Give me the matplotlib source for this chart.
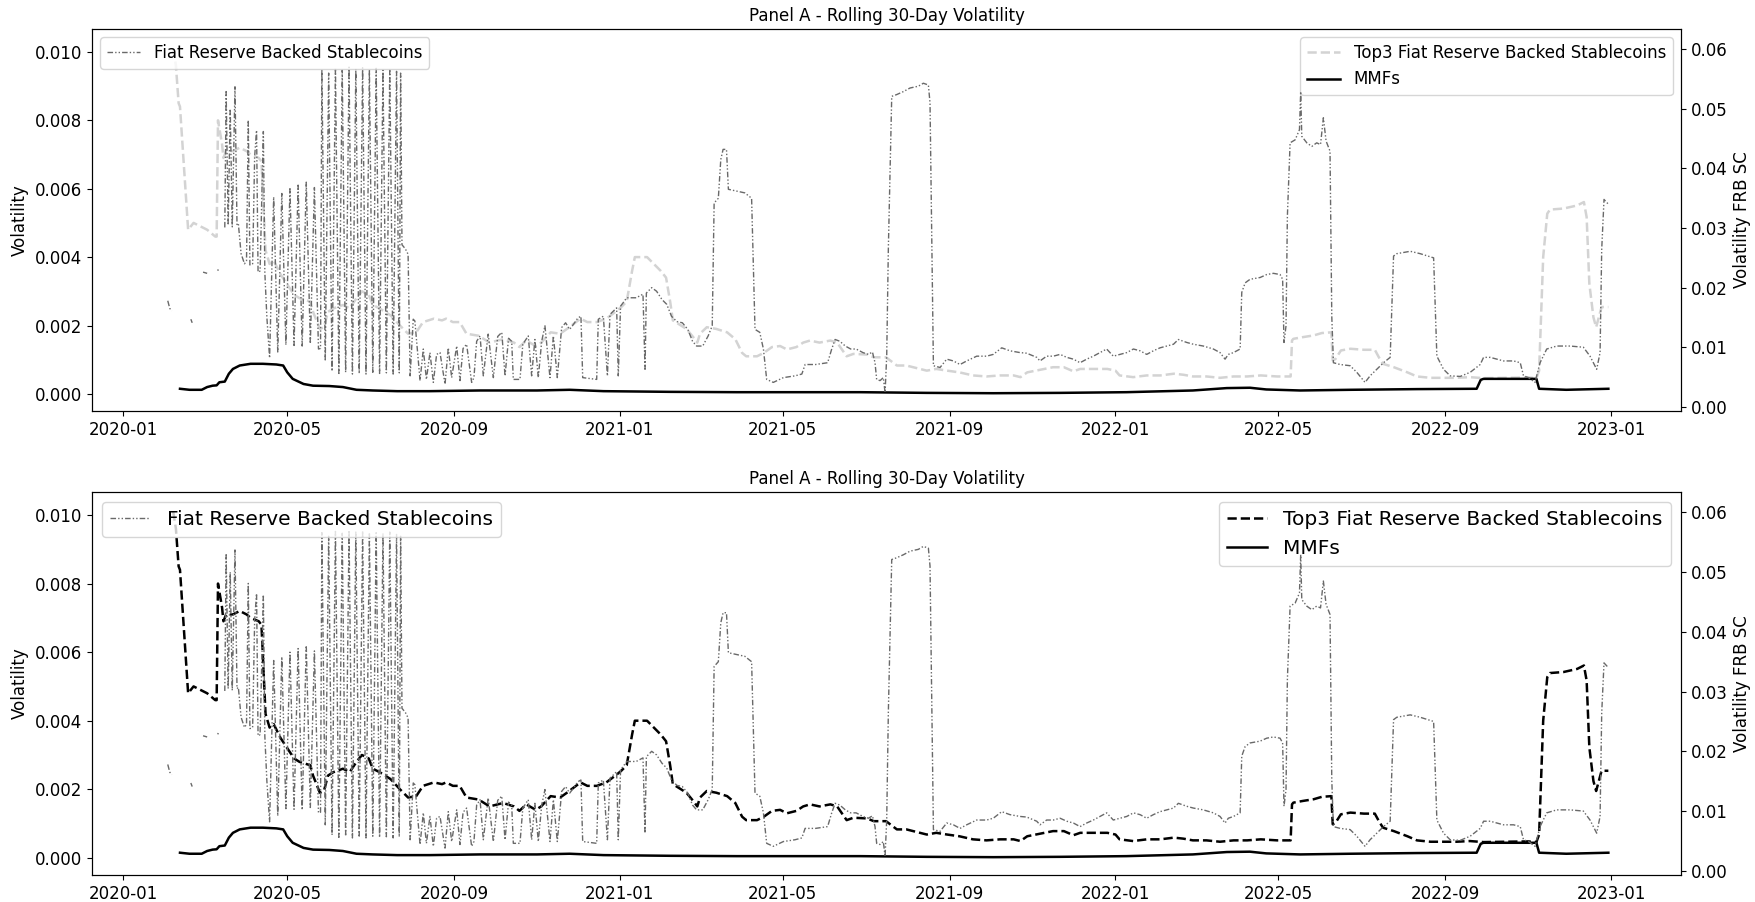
import numpy as np
import pandas as pd
import matplotlib
matplotlib.use("Agg")
import matplotlib.pyplot as plt
import matplotlib.dates as mdates

# days counted from 2020-01-01
start = pd.Timestamp("2020-01-01")

# MMFs (left axis)
mmf_points = [
    (42, 0.00015), (49, 0.00012), (58, 0.00012), (62, 0.00020), (66, 0.00024), (69, 0.00025),
    (71, 0.00034), (75, 0.00036), (78, 0.00059), (81, 0.00073), (86, 0.00083), (94, 0.00088),
    (103, 0.00088), (113, 0.00086), (118, 0.00083), (121, 0.00063), (125, 0.00044), (133, 0.00029),
    (140, 0.00024), (152, 0.00023), (162, 0.00020), (172, 0.00012), (184, 0.00010), (202, 0.00008),
    (226, 0.00008), (263, 0.00010), (305, 0.00010), (329, 0.00012), (354, 0.00008), (403, 0.00006),
    (452, 0.00005), (501, 0.00005), (543, 0.00005), (592, 0.00003), (641, 0.00002), (690, 0.00003),
    (739, 0.00005), (788, 0.00010), (813, 0.00017), (830, 0.00018), (842, 0.00013), (867, 0.00010),
    (904, 0.00012), (953, 0.00014), (997, 0.00015), (1000, 0.00041), (1002, 0.00044), (1041, 0.00044),
    (1043, 0.00015), (1063, 0.00012), (1094, 0.00015),
]

# Top3 fiat reserve backed stablecoins (left axis)
top3_points = [
    (37, 0.0101), (39, 0.0096), (41, 0.0085), (42, 0.0084), (48, 0.0048), (52, 0.0050), (57, 0.0049),
    (62, 0.0048), (68, 0.0046), (69, 0.0046), (70, 0.0080), (73, 0.0073), (74, 0.0069), (76, 0.0071),
    (81, 0.0071), (86, 0.0072), (91, 0.0071), (94, 0.0070), (100, 0.0069), (102, 0.0068), (105, 0.0042),
    (108, 0.0038), (111, 0.0039), (116, 0.0035), (121, 0.0032), (126, 0.0029), (130, 0.0028),
    (138, 0.0027), (140, 0.0024), (145, 0.0019), (148, 0.00195), (151, 0.0024), (155, 0.0025),
    (162, 0.0026), (167, 0.0025), (172, 0.0028), (176, 0.0030), (181, 0.0029), (184, 0.0026),
    (189, 0.0025), (197, 0.0023), (204, 0.0020), (210, 0.00176), (216, 0.0018), (221, 0.0021),
    (229, 0.0022), (235, 0.00215), (238, 0.0022), (243, 0.0021), (248, 0.0021), (253, 0.00176),
    (262, 0.0017), (270, 0.0015), (280, 0.0016), (288, 0.0015), (292, 0.00137), (297, 0.00156),
    (304, 0.0014), (308, 0.0015), (315, 0.0018), (322, 0.00176), (327, 0.0019), (332, 0.00205),
    (337, 0.0022), (342, 0.0021), (349, 0.0021), (356, 0.0022), (364, 0.00244), (367, 0.00254),
    (371, 0.0027), (375, 0.0036), (377, 0.0040), (386, 0.0040), (391, 0.0038), (396, 0.0036),
    (400, 0.0034), (403, 0.0027), (405, 0.00215), (409, 0.00205), (415, 0.0019), (420, 0.00166),
    (423, 0.0015), (425, 0.00176), (430, 0.00195), (437, 0.0019), (445, 0.0018), (451, 0.0016),
    (456, 0.0012), (459, 0.0011), (467, 0.0011), (472, 0.0012), (478, 0.00137), (484, 0.0014),
    (489, 0.0013), (496, 0.00137), (501, 0.0015), (506, 0.00156), (513, 0.0015), (521, 0.00156),
    (526, 0.0015), (533, 0.0011), (538, 0.00117), (548, 0.00115), (553, 0.00107), (562, 0.00107),
    (570, 0.00083), (577, 0.00083), (587, 0.00073), (592, 0.00068), (599, 0.00073), (607, 0.00068),
    (616, 0.00063), (626, 0.00054), (636, 0.00051), (646, 0.00054), (656, 0.00054), (661, 0.00049),
    (666, 0.00063), (675, 0.0007), (685, 0.00078), (693, 0.00078), (700, 0.00066), (705, 0.00073),
    (715, 0.00073), (725, 0.00073), (731, 0.00068), (734, 0.00054), (744, 0.00049), (754, 0.00054),
    (764, 0.00054), (774, 0.00059), (781, 0.00056), (788, 0.00051), (798, 0.00051), (808, 0.00047),
    (818, 0.00051), (828, 0.00051), (838, 0.00054), (850, 0.00051), (860, 0.00051), (861, 0.00156),
    (862, 0.00161), (869, 0.00166), (877, 0.00171), (883, 0.00178), (890, 0.0018), (891, 0.00098),
    (893, 0.00102), (897, 0.00127), (904, 0.00132), (914, 0.00129), (922, 0.00129), (925, 0.00107),
    (928, 0.00088), (936, 0.00078), (946, 0.00063), (953, 0.00051), (963, 0.00047), (973, 0.00047),
    (982, 0.00047), (992, 0.00049), (1002, 0.00046), (1020, 0.00047), (1035, 0.00048), (1041, 0.00046),
    (1043, 0.00068), (1046, 0.0040), (1049, 0.00527), (1051, 0.00539), (1061, 0.00542), (1071, 0.00551),
    (1076, 0.00561), (1078, 0.00517), (1080, 0.00322), (1083, 0.00224), (1085, 0.00195), (1087, 0.00224),
    (1089, 0.00254), (1094, 0.00254),
]

# Fiat reserve backed stablecoins (right axis), None = gap in the data
frb_points = [
    (33, 0.0178), (34.5, 0.0165), (36, 0.0161), None,
    (50, 0.0147), (51, 0.0141), None,
    (59, 0.0226), (62, 0.0224), None,
    (69.5, 0.0230), (70.5, 0.0229), None,
    (75, 0.0301), (76, 0.0529), (77.5, 0.0305), (79, 0.0500), (80.5, 0.0302), (82.5, 0.0537),
    (84, 0.0305), (85, 0.0307), (87, 0.0257), (89.5, 0.0240), (91, 0.0245), (92.3, 0.0481),
    (93.5, 0.0238), (95.5, 0.0240), (97, 0.0420), (98.4, 0.0464), (99.5, 0.0226), (101, 0.0228),
    (103.4, 0.0462), (104.5, 0.0225), (106, 0.0150), (108, 0.0082),
    (111, 0.0352), (114, 0.0092), (117, 0.0358), (120, 0.0104), (123, 0.0366), (126, 0.0103),
    (129, 0.0372), (132, 0.0102), (135, 0.0377), (138, 0.0106), (141, 0.0368), (144, 0.0097),
    (145.5, 0.0098),
    (146.5, 0.0566), (149, 0.0077), (151.5, 0.0560), (154, 0.0060), (156.5, 0.0568), (159, 0.0056),
    (161.5, 0.0565), (164, 0.0058), (166.5, 0.0570), (169, 0.0055), (171.5, 0.0567), (174, 0.0056),
    (176.5, 0.0569), (179, 0.0055), (181.5, 0.0566), (184, 0.0058), (186.5, 0.0568), (189, 0.0056),
    (191.5, 0.0565), (194, 0.0057), (196.5, 0.0567), (199, 0.0055), (201.5, 0.0563), (203.5, 0.0057),
    (204.5, 0.0560), (205.5, 0.0272), (208, 0.0265), (210, 0.0256), (211.5, 0.0052),
    (213.8, 0.0147), (215, 0.0144), (218.8, 0.0044), (221.2, 0.0097), (223.5, 0.0046), (226.1, 0.0091),
    (228.6, 0.0041), (231, 0.0088), (233.5, 0.0091), (237.2, 0.0038), (239.6, 0.0099), (242.1, 0.0049),
    (245.8, 0.0102), (248.2, 0.0044), (250.5, 0.0098), (253.1, 0.0105), (256.8, 0.0041), (258.5, 0.0049),
    (260.5, 0.0110), (263, 0.0119), (265.4, 0.0052), (269, 0.0122), (272.8, 0.0049), (276, 0.0118),
    (279, 0.0125), (281.4, 0.0052), (284, 0.0115), (286.3, 0.0110), (287.5, 0.0046), (292.4, 0.0046),
    (294.5, 0.0105), (298.5, 0.0119), (301, 0.0052), (303.4, 0.0113), (305.9, 0.0049), (308.4, 0.0110),
    (310.8, 0.0136), (314.5, 0.0049), (317, 0.0119), (319.9, 0.0049), (323.1, 0.0133), (326, 0.0141),
    (329, 0.0130), (332, 0.0139), (335, 0.0149), (337.3, 0.0152), (338.6, 0.0049), (348.9, 0.0046),
    (350.1, 0.0147), (353.8, 0.0152), (356.8, 0.0052), (358.7, 0.0155), (363.6, 0.0166), (364.8, 0.0052),
    (366.5, 0.0169), (368.5, 0.0175), (371, 0.0183), (378, 0.0183), (383, 0.0189), (384.5, 0.0063),
    (385.5, 0.0191), (389.4, 0.0200), (393, 0.0194), (397, 0.0180), (400.5, 0.0172), (404, 0.0152),
    (408, 0.0143), (412, 0.0141), (416, 0.0130), (419.5, 0.0110), (422.5, 0.0102), (427, 0.0102),
    (431, 0.0119), (434, 0.0136), (435.4, 0.0342), (438.5, 0.0350), (440.3, 0.0415), (442, 0.0432),
    (444.5, 0.0432), (445.9, 0.0365), (452, 0.0362), (458, 0.0359), (463, 0.0350), (465.5, 0.0130),
    (469, 0.0125), (471.7, 0.0097), (474.1, 0.0046), (479, 0.0041), (486.4, 0.0049), (495, 0.0052),
    (500, 0.0055), (502.4, 0.0071), (510, 0.0071), (519, 0.0074), (522, 0.0097), (524.5, 0.0113),
    (528, 0.0110), (532, 0.0102), (536, 0.0097), (540, 0.0097), (545, 0.0091), (549, 0.0088),
    (552, 0.0092), (553.9, 0.0074), (555.1, 0.0046), (557.6, 0.0044), (560, 0.0049), (561.3, 0.0024),
    (562.5, 0.0085), (563.7, 0.0264), (566.2, 0.0521), (569.9, 0.0524), (574.8, 0.0529), (579.7, 0.0535),
    (585.8, 0.0538), (589.5, 0.0543), (593.2, 0.0540), (594.4, 0.0510), (596.9, 0.0069), (601.8, 0.0066),
    (606.7, 0.0080), (611.6, 0.0077), (616.5, 0.0071), (621.4, 0.0077), (628.8, 0.0085), (636.1, 0.0085),
    (641, 0.0088), (647.2, 0.0099), (653.3, 0.0094), (660.7, 0.0091), (665.6, 0.0090), (673, 0.0083),
    (675.4, 0.0077), (680.3, 0.0085), (685.2, 0.0085), (690.2, 0.0088), (695.1, 0.0083), (700, 0.0080),
    (704.9, 0.0074), (709.8, 0.0080), (714.7, 0.0085), (719.6, 0.0091), (724.5, 0.0097), (729.4, 0.0085),
    (734.4, 0.0088), (739.3, 0.0091), (744.2, 0.0097), (749.1, 0.0094), (754, 0.0088), (758.9, 0.0094),
    (763.8, 0.0099), (768.8, 0.0102), (773.7, 0.0105), (777.3, 0.0113), (783.5, 0.0108), (788.4, 0.0105),
    (795.7, 0.0102), (803.1, 0.0097), (808, 0.0091), (811.7, 0.0080), (814.1, 0.0088), (817.9, 0.0091),
    (822.8, 0.0097), (824, 0.0192), (826.5, 0.0208), (830.1, 0.0214), (837.5, 0.0217), (842.4, 0.0222),
    (847.3, 0.0224), (852.2, 0.0222), (854.1, 0.0214), (855.1, 0.0108), (856.6, 0.0136), (857.6, 0.0320),
    (859.6, 0.0443), (863.3, 0.0448), (866.5, 0.0465), (867.4, 0.0529), (868.2, 0.0454), (871.9, 0.0443),
    (875.6, 0.0437), (879.2, 0.0443), (882, 0.0440), (884.1, 0.0485), (886.1, 0.0446), (889, 0.0429),
    (890.3, 0.0152), (891.5, 0.0074), (896.5, 0.0071), (903.8, 0.0069), (908.7, 0.0058), (914.8, 0.0041),
    (918.5, 0.0052), (923.5, 0.0063), (928.4, 0.0074), (933.3, 0.0083), (935.8, 0.0253), (938.2, 0.0257),
    (948.1, 0.0261), (955.4, 0.0257), (965.3, 0.0250), (967.7, 0.0085), (972.6, 0.0063), (977.5, 0.0052),
    (984.9, 0.0051), (992.3, 0.0058), (999.6, 0.0071), (1002.1, 0.0083), (1007, 0.0083), (1011.9, 0.0080),
    (1016.8, 0.0077), (1024.2, 0.0077), (1029.1, 0.0074), (1031.5, 0.0052), (1035.2, 0.0049),
    (1040, 0.0041), (1043.7, 0.0074), (1048.6, 0.0097), (1056, 0.0102), (1065.8, 0.0102),
    (1075.6, 0.0100), (1080.5, 0.0085), (1085.4, 0.0063), (1087.9, 0.0091), (1089.1, 0.0264),
    (1090.8, 0.0348), (1094, 0.0340),
]


def to_series(points):
    days, vals = [], []
    for p in points:
        if p is None:
            days.append(days[-1] + 0.1)
            vals.append(np.nan)
        else:
            days.append(p[0])
            vals.append(p[1])
    dates = start + pd.to_timedelta(np.array(days, dtype=float), unit="D")
    return dates, np.array(vals, dtype=float)


mmf_x, mmf_y = to_series(mmf_points)
top3_x, top3_y = to_series(top3_points)
frb_x, frb_y = to_series(frb_points)

plt.rcParams["font.size"] = 12

fig = plt.figure(figsize=(17.56, 9.02), dpi=100)
W, H = 1756, 902
panels = [
    (fig.add_axes([92 / W, 1 - 411 / H, 1589 / W, 382 / H]), "lightgray", 12),
    (fig.add_axes([92 / W, 1 - 875 / H, 1589 / W, 383 / H]), "black", 14.5),
]

x_left = start + pd.Timedelta(days=-22.8)
x_right = start + pd.Timedelta(days=1147.5)

for ax, top3_color, leg_size in panels:
    ax.plot(top3_x, top3_y, color=top3_color, linestyle="--", linewidth=1.8,
            label="Top3 Fiat Reserve Backed Stablecoins")
    ax.plot(mmf_x, mmf_y, color="black", linewidth=1.8, label="MMFs")
    ax.set_ylabel("Volatility")
    ax.set_ylim(-0.0005, 0.01067)
    ax.set_xlim(x_left, x_right)
    ax.xaxis.set_major_locator(mdates.MonthLocator(bymonth=[1, 5, 9]))
    ax.xaxis.set_major_formatter(mdates.DateFormatter("%Y-%m"))
    ax.set_title("Panel A - Rolling 30-Day Volatility", fontsize=12)
    ax.legend(loc="upper right", fontsize=leg_size)

    ax2 = ax.twinx()
    ax2.plot(frb_x, frb_y, color="dimgray", linewidth=1.0, dashes=(4, 1.5, 1, 1.5, 1, 1.5),
             label="Fiat Reserve Backed Stablecoins")
    ax2.set_ylabel("Volatility FRB SC")
    ax2.set_ylim(-0.0007, 0.0634)
    ax2.legend(loc="upper left", fontsize=leg_size)

fig.savefig("out.png", dpi=100)
